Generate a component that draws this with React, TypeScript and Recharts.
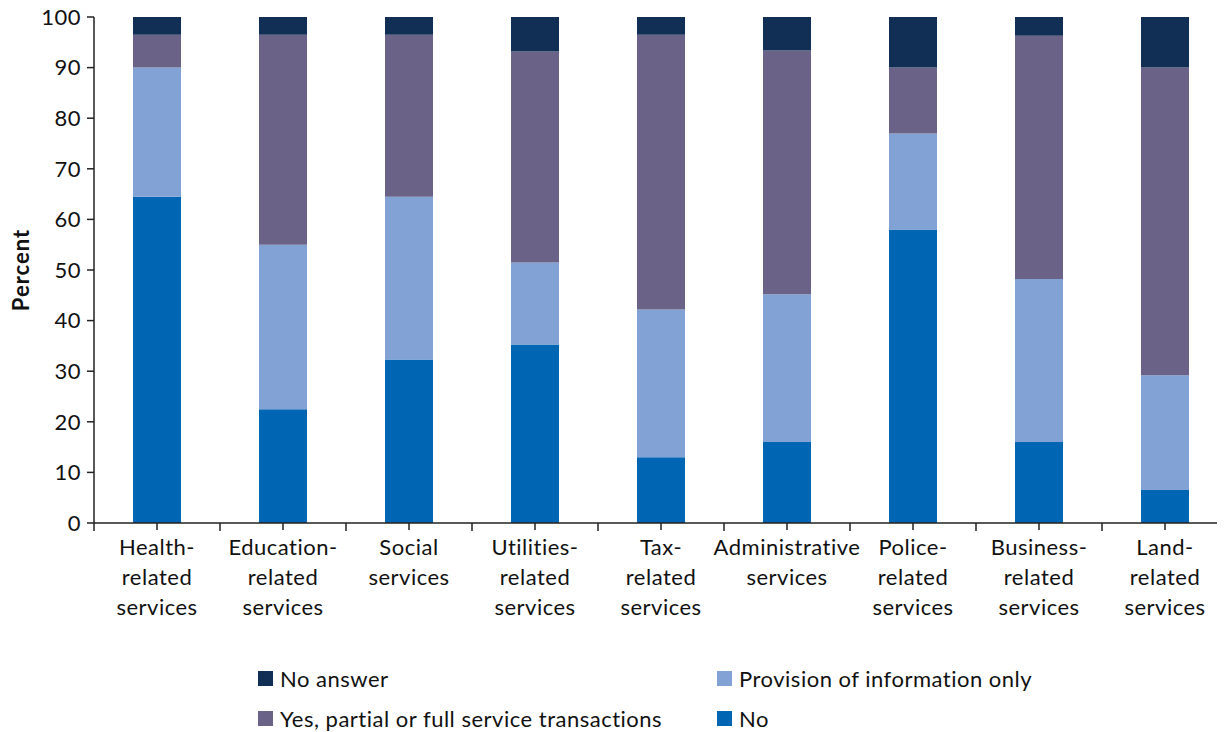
import { BarChart, Bar, XAxis, YAxis, Legend } from 'recharts'

const categories = [
  'Health-related services',
  'Education-related services',
  'Social services',
  'Utilities-related services',
  'Tax-related services',
  'Administrative services',
  'Police-related services',
  'Business-related services',
  'Land-related services',
]

const categoryLines = [
  ['Health-', 'related', 'services'],
  ['Education-', 'related', 'services'],
  ['Social', 'services'],
  ['Utilities-', 'related', 'services'],
  ['Tax-', 'related', 'services'],
  ['Administrative', 'services'],
  ['Police-', 'related', 'services'],
  ['Business-', 'related', 'services'],
  ['Land-', 'related', 'services'],
]

// stacked bottom to top
const noValues = [64.5, 22.5, 32.3, 35.3, 13.0, 16.0, 58.0, 16.0, 6.5]
const infoValues = [25.5, 32.5, 32.2, 16.2, 29.2, 29.2, 19.0, 32.2, 22.7]
const yesValues = [6.5, 41.5, 32.0, 41.7, 54.3, 48.2, 13.0, 48.1, 60.8]
const noAnswerValues = [3.5, 3.5, 3.5, 6.8, 3.5, 6.6, 10.0, 3.7, 10.0]

const yTicks = [0, 10, 20, 30, 40, 50, 60, 70, 80, 90, 100]

const series = [
  { key: 'no', name: 'No', color: '#0066b3' },
  { key: 'info', name: 'Provision of information only', color: '#82a1d4' },
  { key: 'yes', name: 'Yes, partial or full service transactions', color: '#6a6287' },
  { key: 'noAnswer', name: 'No answer', color: '#112f55' },
]

const data = categories.map((name, i) => ({
  name,
  no: noValues[i],
  info: infoValues[i],
  yes: yesValues[i],
  noAnswer: noAnswerValues[i],
}))

const FONT = 'Lato, "Noto Sans", sans-serif'
const FONT_SIZE = 22
const SPACING = 0.5
const CHART_W = 1228
const CHART_H = 732
const Y_AXIS_W = 94
const BAND = (CHART_W - Y_AXIS_W) / categories.length
const AXIS_COLOR = '#222'

function CategoryTick(props: any) {
  const { x, y, payload } = props
  const idx = categories.indexOf(payload.value)
  const lines = categoryLines[idx] || [payload.value]
  const half = BAND / 2
  return (
    <g>
      <line x1={x} x2={x} y1={y} y2={y + 7} stroke={AXIS_COLOR} strokeWidth={1.5} />
      <line x1={x - half} x2={x - half} y1={y} y2={y + 8} stroke={AXIS_COLOR} strokeWidth={1.5} />
      {idx === categories.length - 1 && (
        <line x1={x + half} x2={x + half} y1={y} y2={y + 8} stroke={AXIS_COLOR} strokeWidth={1.5} />
      )}
      <text
        x={x}
        y={y + 32}
        textAnchor="middle"
        fill="#111"
        fontSize={FONT_SIZE}
        fontFamily={FONT}
        letterSpacing={SPACING}
      >
        {lines.map((l, i) => (
          <tspan key={i} x={x} dy={i === 0 ? 0 : 30}>
            {l}
          </tspan>
        ))}
      </text>
    </g>
  )
}

const legendOrder = [
  { key: 'noAnswer', col: 0, row: 0 },
  { key: 'info', col: 1, row: 0 },
  { key: 'yes', col: 0, row: 1 },
  { key: 'no', col: 1, row: 1 },
]

function LegendGrid() {
  return (
    <div style={{ position: 'relative', width: CHART_W, height: 80, fontFamily: FONT }}>
      {legendOrder.map((it) => {
        const s = series.find((x) => x.key === it.key)!
        return (
          <div
            key={it.key}
            style={{
              position: 'absolute',
              left: it.col === 0 ? 258 : 717,
              top: it.row * 40,
              height: 24,
              display: 'flex',
              alignItems: 'center',
              fontSize: FONT_SIZE,
              letterSpacing: SPACING,
              color: '#111',
              whiteSpace: 'nowrap',
            }}
          >
            <span style={{ width: 15, height: 15, background: s.color, display: 'inline-block', marginRight: 7 }} />
            {s.name}
          </div>
        )
      })}
    </div>
  )
}

export default function App() {
  return (
    <div style={{ width: 1225, height: CHART_H, margin: '-8px 0 0 -8px', overflow: 'hidden', fontFamily: FONT }}>
      <BarChart
        width={CHART_W}
        height={CHART_H}
        data={data}
        margin={{ top: 17, right: 0, bottom: 0, left: 0 }}
        barCategoryGap={0}
      >
        <XAxis
          dataKey="name"
          interval={0}
          tickLine={false}
          tickSize={0}
          tickMargin={0}
          height={209}
          axisLine={{ stroke: AXIS_COLOR, strokeWidth: 1.5 }}
          tick={<CategoryTick />}
        />
        <YAxis
          width={Y_AXIS_W}
          domain={[0, 100]}
          ticks={yTicks}
          interval={0}
          tickSize={7}
          tickMargin={6}
          axisLine={{ stroke: AXIS_COLOR, strokeWidth: 1.5 }}
          tickLine={{ stroke: AXIS_COLOR, strokeWidth: 1.5 }}
          tick={{ fill: '#111', fontSize: FONT_SIZE, fontFamily: FONT, letterSpacing: SPACING }}
          label={{
            value: 'Percent',
            angle: -90,
            position: 'insideLeft',
            offset: 21,
            style: {
              fontWeight: 700,
              fontSize: FONT_SIZE,
              letterSpacing: 1,
              fill: '#111',
              fontFamily: FONT,
              textAnchor: 'middle',
            },
          }}
        />
        <Legend
          layout="horizontal"
          verticalAlign="middle"
          wrapperStyle={{ top: 666, left: 0, width: CHART_W }}
          content={() => <LegendGrid />}
        />
        {series.map((s) => (
          <Bar
            key={s.key}
            dataKey={s.key}
            name={s.name}
            stackId="a"
            fill={s.color}
            barSize={48}
            isAnimationActive={false}
          />
        ))}
      </BarChart>
    </div>
  )
}
